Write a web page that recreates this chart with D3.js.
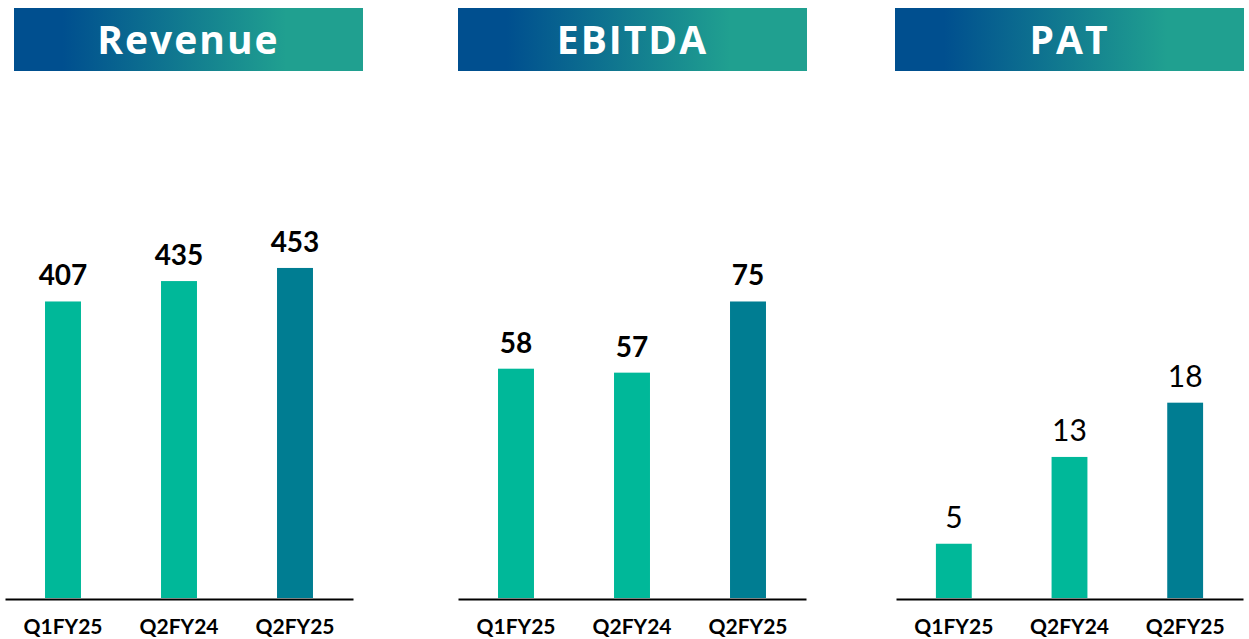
<!DOCTYPE html>
<html>
<head>
<meta charset="utf-8">
<script src="https://cdn.jsdelivr.net/npm/d3@7"></script>
<style>
  body { margin: 0; background: #fff; }
  svg { display: block; }
</style>
</head>
<body>
<div id="canvas"></div>
<script>
const titles = ['Revenue', 'EBITDA', 'PAT'];
const categories = ['Q1FY25', 'Q2FY24', 'Q2FY25'];
const revenue = [407, 435, 453];
const ebitda = [58, 57, 75];
const pat = [5, 13, 18];
const seriesList = [revenue, ebitda, pat];

const w = 1249;
const h = 639;
const baseline = 598;
const plotTop = 88;

// panel layout (axis extents and header boxes)
const panels = [
  { x0: 5, x1: 353, hx: 14, hw: 349, yMax: 700, boldLabels: true },
  { x0: 458, x1: 806, hx: 458, hw: 349, yMax: 129, boldLabels: true },
  { x0: 896, x1: 1243, hx: 895, hw: 349, yMax: 47, boldLabels: false }
];

const svg = d3.select('#canvas')
  .append('svg')
  .attr('width', w)
  .attr('height', h);

const defs = svg.append('defs');
const grad = defs.append('linearGradient')
  .attr('id', 'hdr')
  .attr('x1', '0%').attr('x2', '100%')
  .attr('y1', '0%').attr('y2', '0%');
grad.append('stop').attr('offset', '0%').attr('stop-color', '#004f8f');
grad.append('stop').attr('offset', '14%').attr('stop-color', '#004f8f');
grad.append('stop').attr('offset', '78%').attr('stop-color', '#20a090');
grad.append('stop').attr('offset', '100%').attr('stop-color', '#20a090');

panels.forEach((p, pi) => {
  const data = seriesList[pi];
  const g = svg.append('g');

  // header
  g.append('rect')
    .attr('x', p.hx)
    .attr('y', 8)
    .attr('width', p.hw)
    .attr('height', 63)
    .attr('fill', 'url(#hdr)');

  g.append('text')
    .attr('x', p.hx + p.hw / 2)
    .attr('y', 54)
    .attr('text-anchor', 'middle')
    .style('font-family', '"Open Sans", sans-serif')
    .style('font-weight', 'bold')
    .style('font-size', '39px')
    .style('letter-spacing', '2px')
    .style('fill', '#fff')
    .text(titles[pi]);

  const xScale = d3.scaleBand()
    .domain(categories)
    .range([p.x0, p.x1])
    .paddingInner(0.69)
    .paddingOuter(0.345);

  const yScale = d3.scaleLinear()
    .domain([0, p.yMax])
    .range([baseline, plotTop]);

  g.selectAll('rect.bar')
    .data(data)
    .enter()
    .append('rect')
    .attr('class', 'bar')
    .attr('x', (d, i) => xScale(categories[i]))
    .attr('y', d => yScale(d))
    .attr('width', xScale.bandwidth())
    .attr('height', d => baseline - yScale(d))
    .attr('fill', (d, i) => i === 2 ? '#007d92' : '#00b899');

  g.selectAll('text.val')
    .data(data)
    .enter()
    .append('text')
    .attr('class', 'val')
    .attr('x', (d, i) => xScale(categories[i]) + xScale.bandwidth() / 2)
    .attr('y', d => yScale(d) - 16)
    .attr('text-anchor', 'middle')
    .style('font-family', 'Lato, sans-serif')
    .style('font-weight', p.boldLabels ? 'bold' : 'normal')
    .style('font-size', p.boldLabels ? '28px' : '30px')
    .style('fill', '#000')
    .text(d => d);

  const xAxis = d3.axisBottom(xScale).tickSize(0).tickPadding(0);
  const ax = g.append('g')
    .attr('transform', 'translate(0,' + (baseline + 1) + ')')
    .call(xAxis);
  ax.select('.domain')
    .attr('stroke', '#000')
    .attr('stroke-width', 2);
  ax.selectAll('text')
    .attr('dy', 0)
    .attr('y', 35)
    .style('font-family', 'Lato, sans-serif')
    .style('font-weight', 'bold')
    .style('font-size', '21px')
    .style('fill', '#000');
});
</script>
</body>
</html>
